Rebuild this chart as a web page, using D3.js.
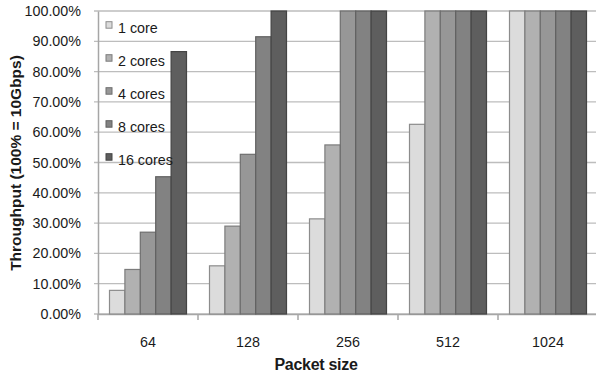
<!DOCTYPE html>
<html><head><meta charset="utf-8">
<script src="https://cdn.jsdelivr.net/npm/d3@7"></script>
<style>body{margin:0;background:#fff;}svg{display:block;font-family:"Liberation Sans",Arial,sans-serif;}</style>
</head><body>
<svg id="c" width="596" height="378"></svg>
<script>
const categories = ["64","128","256","512","1024"];
const series = ["1 core","2 cores","4 cores","8 cores","16 cores"];
const values = {
  "1 core":   [7.8, 15.9, 31.4, 62.6, 100],
  "2 cores":  [14.7, 29.0, 55.8, 100, 100],
  "4 cores":  [27.0, 52.7, 100, 100, 100],
  "8 cores":  [45.3, 91.5, 100, 100, 100],
  "16 cores": [86.6, 100, 100, 100, 100]
};
const yTicks = [0,10,20,30,40,50,60,70,80,90,100];
const fills = ["#dcdcdc","#b1b1b1","#979797","#828282","#5e5e5e"];
const strokes = ["#8c8c8c","#7c7c7c","#6e6e6e","#606060","#444444"];

const svg = d3.select("#c");
const L = 98, R = 598, T = 11, B = 314;
const FS = 14.3;
const x0 = d3.scaleBand().domain(categories).range([L, R]).paddingInner(0.23).paddingOuter(0.115);
const x1 = d3.scaleBand().domain(series).range([0, x0.bandwidth()]);
const y = d3.scaleLinear().domain([0, 100]).range([B, T]);
const outer = d3.scaleBand().domain(categories).range([L, R]);

// gridlines
svg.append("g").selectAll("line").data(yTicks).join("line")
  .attr("x1", L - 4).attr("x2", R).attr("y1", d => y(d)).attr("y2", d => y(d))
  .attr("stroke", "#bdbdbd").attr("stroke-width", 1.3);

// y axis
const ya = svg.append("g").attr("transform", `translate(${L},0)`)
  .call(d3.axisLeft(y).tickValues(yTicks).tickSize(0).tickPadding(17).tickFormat(d => d.toFixed(2) + "%"));
ya.select(".domain").attr("stroke", "#a6a6a6").attr("stroke-width", 1.5);
ya.selectAll("text").attr("font-size", FS).attr("fill", "#1a1a1a").attr("font-family", "Liberation Sans, Arial, sans-serif");

// x axis
const xa = svg.append("g").attr("transform", `translate(0,${B})`)
  .call(d3.axisBottom(outer).tickSize(0).tickPadding(23));
xa.select(".domain").attr("stroke", "#a6a6a6").attr("stroke-width", 1.5);
xa.selectAll("text").attr("font-size", FS).attr("fill", "#1a1a1a").attr("font-family", "Liberation Sans, Arial, sans-serif");
// boundary ticks
svg.append("g").selectAll("line").data(categories).join("line")
  .attr("x1", d => outer(d)).attr("x2", d => outer(d))
  .attr("y1", B).attr("y2", B + 6).attr("stroke", "#a6a6a6").attr("stroke-width", 1.5);

// bars
series.forEach((s, si) => {
  svg.append("g").selectAll("rect").data(categories).join("rect")
    .attr("x", d => x0(d) + x1(s))
    .attr("y", (d, i) => y(values[s][i]))
    .attr("width", x1.bandwidth())
    .attr("height", (d, i) => B - y(values[s][i]))
    .attr("fill", fills[si]).attr("stroke", strokes[si]).attr("stroke-width", 1.2);
});

// legend
const lg = svg.append("g");
series.forEach((s, si) => {
  const cy = 25 + si * 33;
  lg.append("rect").attr("x", 106).attr("y", cy - 3.3).attr("width", 6).attr("height", 6.5)
    .attr("fill", fills[si]).attr("stroke", strokes[si]).attr("stroke-width", 1);
  lg.append("text").attr("x", 118).attr("y", cy + 8).attr("font-size", FS).attr("fill", "#1a1a1a").text(s);
});

// axis titles
svg.append("text").attr("x", 316).attr("y", 370).attr("text-anchor", "middle")
  .attr("font-size", 16).attr("font-weight", "bold").attr("fill", "#1a1a1a").attr("letter-spacing", -0.3).text("Packet size");
svg.append("text").attr("transform", "translate(21,163) rotate(-90)").attr("text-anchor", "middle")
  .attr("font-size", 15.5).attr("font-weight", "bold").attr("fill", "#1a1a1a").text("Throughput  (100% = 10Gbps)");
</script>
</body></html>
